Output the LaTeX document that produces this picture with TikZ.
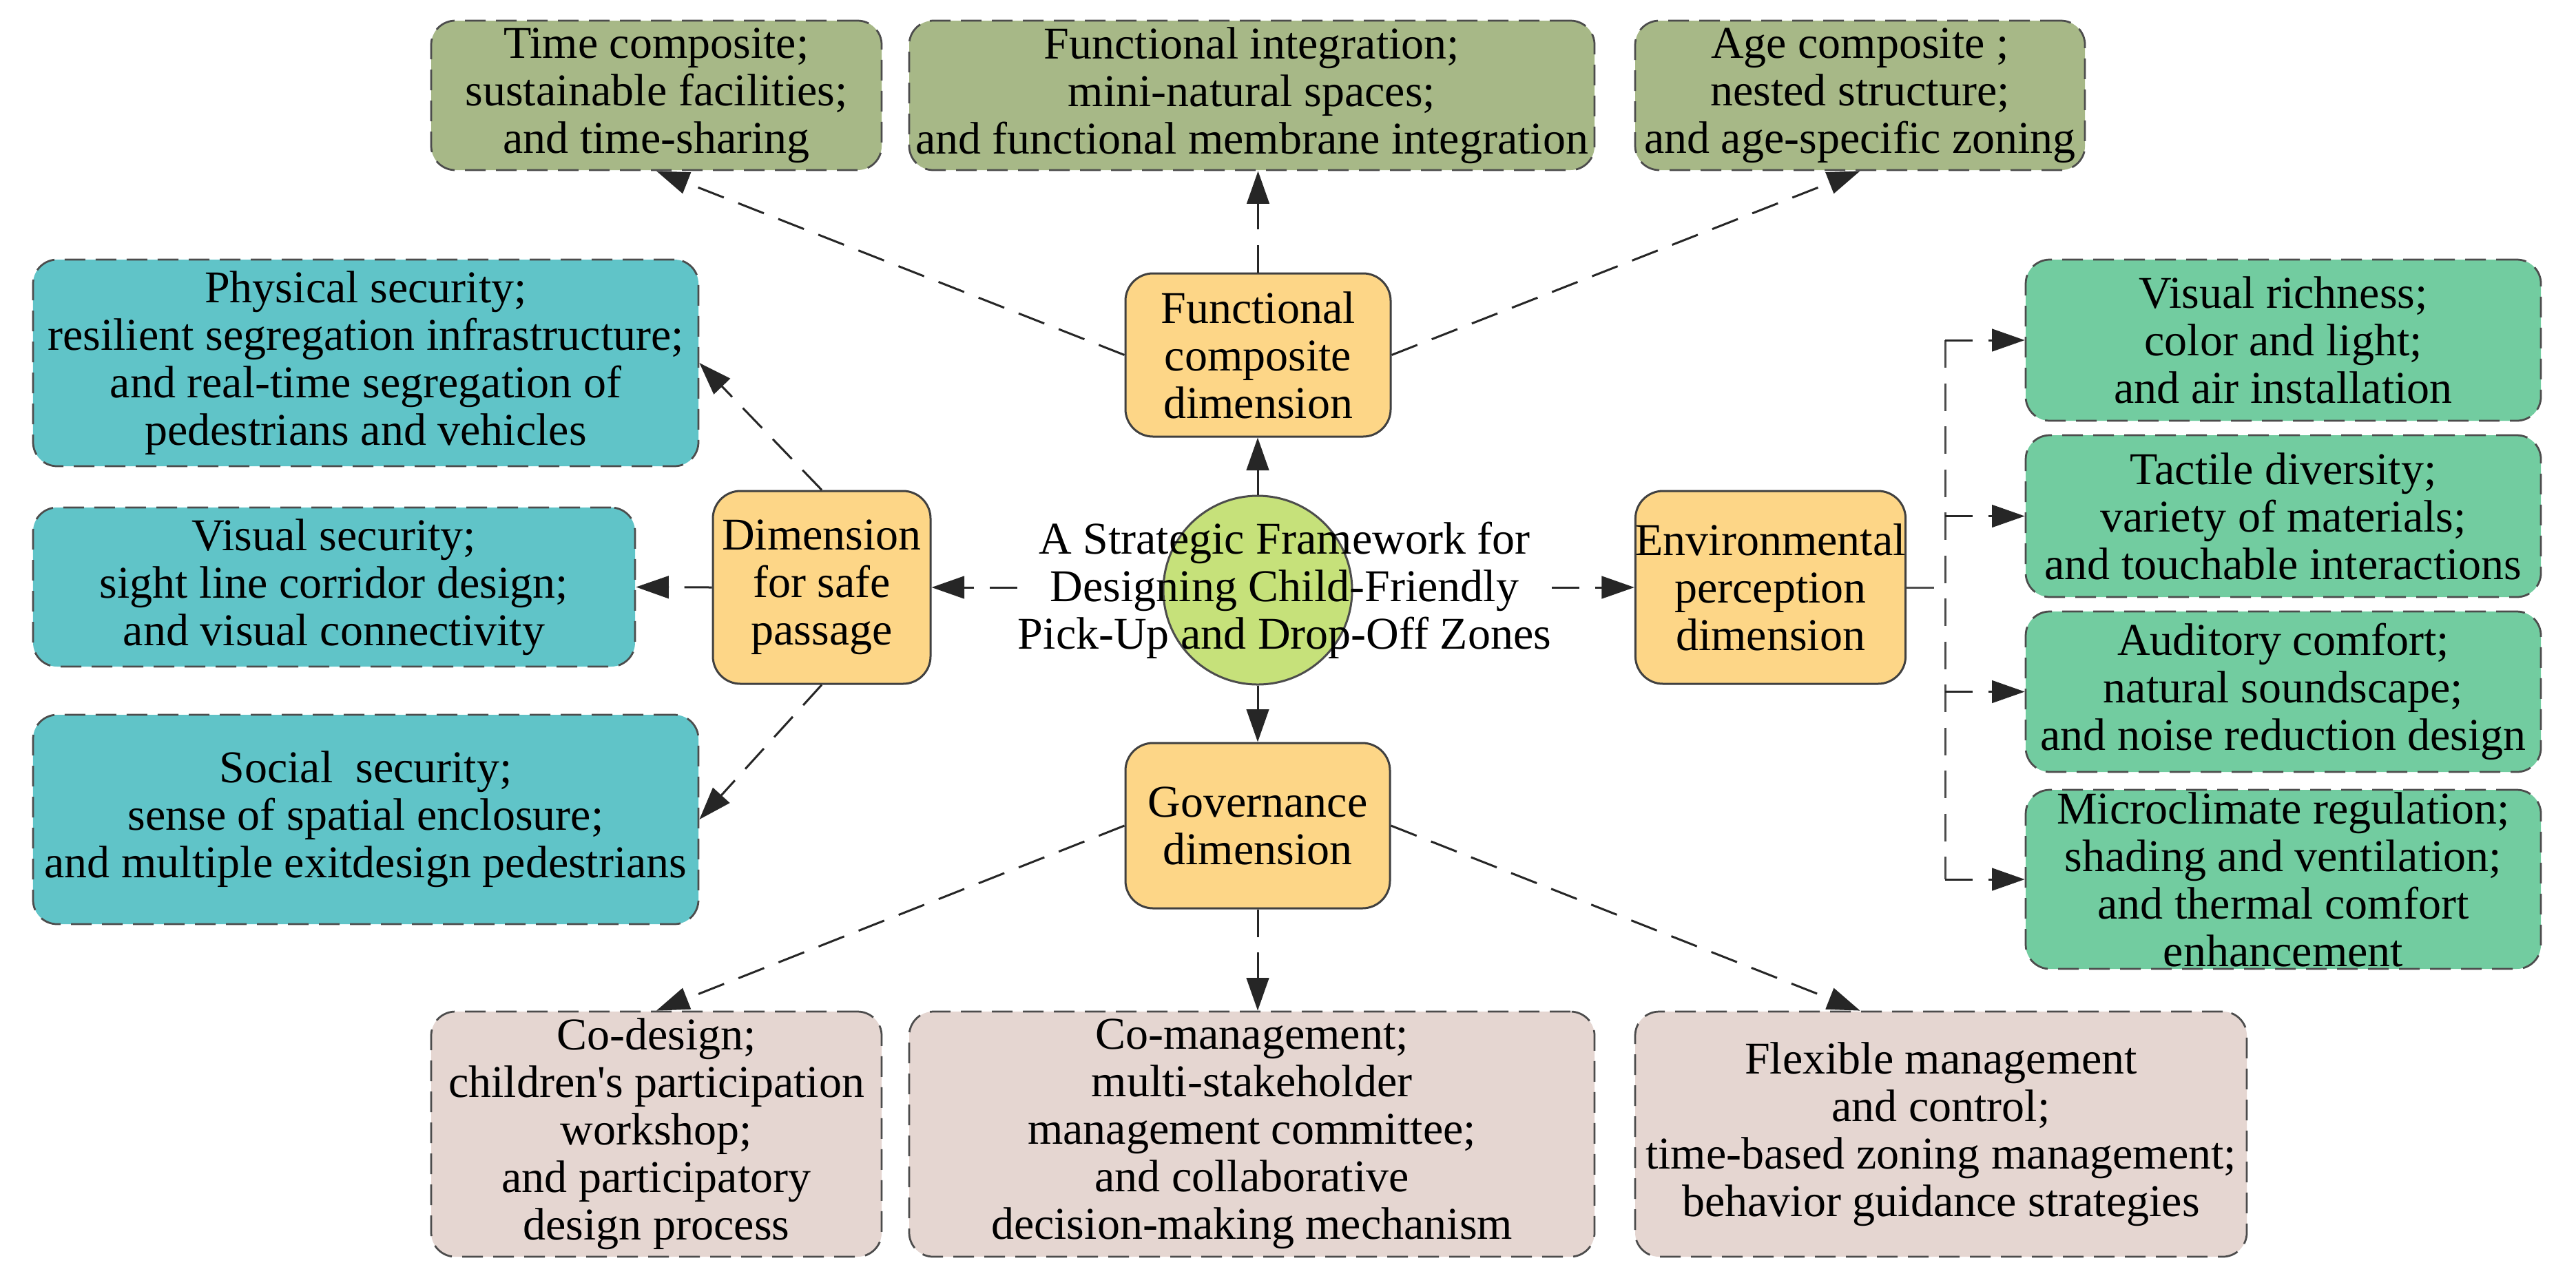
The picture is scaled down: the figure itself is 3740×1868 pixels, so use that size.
\documentclass[tikz,border=0pt]{standalone}
\usepackage{fontspec}
\setmainfont{Liberation Serif}
\newfontfamily\plainserif{Liberation Serif}
\usetikzlibrary{arrows.meta,calc}
\definecolor{cOlive}{RGB}{167,184,135}
\definecolor{cTeal}{RGB}{96,196,200}
\definecolor{cMint}{RGB}{114,204,160}
\definecolor{cPink}{RGB}{229,214,209}
\definecolor{cOrange}{RGB}{253,214,135}
\definecolor{cCore}{RGB}{198,225,122}
\begin{document}
\begin{tikzpicture}[x=0.2pt,y=-0.2pt,
  txt/.style={font=\plainserif\fontsize{13.2pt}{13.8pt}\selectfont, align=center, inner sep=0pt},
  leafbox/.style={txt, draw=black!70, line width=0.55pt, dash pattern=on 6pt off 3pt, rounded corners=7pt},
  topbox/.style={leafbox, fill=cOlive},
  safebox/.style={leafbox, fill=cTeal},
  envbox/.style={leafbox, fill=cMint},
  govbox/.style={leafbox, fill=cPink},
  dimbox/.style={txt, draw=black!75, line width=0.6pt, fill=cOrange, rounded corners=8pt},
  arr/.style={-{Triangle[length=9.5pt,width=6.5pt]}, line width=0.6pt, dash pattern=on 8pt off 4.5pt, black!85},
  arrs/.style={-{Triangle[length=9.5pt,width=6.5pt]}, line width=0.6pt, black!85},
  dline/.style={line width=0.6pt, dash pattern=on 8pt off 4.5pt, black!70}
]
\fill[white] (0,0) rectangle (3740,1868);
\useasboundingbox (0,0) rectangle (3740,1868);

% top row
\node[topbox, minimum width=130.8pt, minimum height=43.4pt] (tc) at (953,138.5) {Time composite;\\sustainable facilities;\\and time-sharing};
\node[topbox, minimum width=199pt, minimum height=43.4pt] (fi) at (1817.5,138.5) {Functional integration;\\mini-natural spaces;\\and functional membrane integration};
\node[topbox, minimum width=130.6pt, minimum height=43.4pt] (ac) at (2700.5,138.5) {Age composite ;\\nested structure;\\and age-specific zoning};

% left column
\node[safebox, minimum width=193.2pt, minimum height=60pt] (phys) at (531,527) {Physical security;\\resilient segregation infrastructure;\\and real-time segregation of\\pedestrians and vehicles};
\node[safebox, minimum width=174.8pt, minimum height=46.2pt] (vis) at (485,852.5) {Visual security;\\sight line corridor design;\\and visual connectivity};
\node[safebox, minimum width=193.2pt, minimum height=60.8pt] (soc) at (531,1190) {Social\ \ security;\\sense of spatial enclosure;\\and multiple exitdesign pedestrians};

% dimensions
\node[dimbox, minimum width=63.2pt, minimum height=56pt] (dsp) at (1193,853) {Dimension\\for safe\\passage};
\node[dimbox, minimum width=77pt, minimum height=47.4pt] (fcd) at (1826.5,515.5) {Functional\\composite\\dimension};
\node[dimbox, minimum width=76.8pt, minimum height=48pt] (gov) at (1826,1199) {Governance\\dimension};
\node[dimbox, minimum width=76.6pt, minimum height=56pt] (env) at (2570.5,853) {Environmental\\perception\\dimension};

% core
\node[circle, draw=black!70, line width=0.6pt, fill=cCore, minimum size=54.8pt, inner sep=0pt] (core) at (1826,857) {};
\node[txt] (coretext) at (1865,857) {A Strategic Framework for\\Designing Child-Friendly\\Pick-Up and Drop-Off Zones};

% right column
\node[envbox, minimum width=149.6pt, minimum height=46.8pt] (vr) at (3315,494) {Visual richness;\\color and light;\\and air installation};
\node[envbox, minimum width=149.6pt, minimum height=47pt] (td) at (3315,749.5) {Tactile diversity;\\variety of materials;\\and touchable interactions};
\node[envbox, minimum width=149.6pt, minimum height=46.6pt] (au) at (3315,1004.5) {Auditory comfort;\\natural soundscape;\\and noise reduction design};
\node[envbox, minimum width=149.6pt, minimum height=52pt] (mc) at (3315,1277) {Microclimate regulation;\\shading and ventilation;\\and thermal comfort\\enhancement};

% bottom row
\node[govbox, minimum width=130.8pt, minimum height=71.2pt] (cd) at (953,1647) {Co-design;\\children's participation\\workshop;\\and participatory\\design process};
\node[govbox, minimum width=199pt, minimum height=71.2pt] (cm) at (1817.5,1647) {Co-management;\\multi-stakeholder\\management committee;\\and collaborative\\decision-making mechanism};
\node[govbox, minimum width=177.6pt, minimum height=71.2pt] (fm) at (2818,1647) {Flexible management\\and control;\\time-based zoning management;\\behavior guidance strategies};

% connectors
\draw[arrs] (core.north) -- (core.north |- fcd.south);
\draw[arrs] (core.south) -- (core.south |- gov.north);
\draw[arr] (coretext.west |- dsp.east) -- (dsp.east);
\draw[arr] (coretext.east |- env.west) -- (env.west);

\draw[arr] (fcd.west) -- (tc.south);
\draw[arr] (fcd.north) -- (fcd.north |- fi.south);
\draw[arr] (fcd.east) -- (ac.south);

\draw[arr] (dsp.north) -- (phys.east);
\draw[arr] (dsp.west) -- (vis.east);
\draw[arr] (dsp.south) -- (soc.east);

\draw[arr] (gov.west) -- (cd.north);
\draw[arr] (gov.south) -- (gov.south |- cm.north);
\draw[arr] (gov.east) -- (ac.south |- fm.north);

\coordinate (split) at (2824,853);
\draw[dline] (env.east) -- (split);
\draw[dline] (split |- vr.west) -- (split |- mc.west);
\foreach \b in {vr,td,au,mc} \draw[arr] (split |- \b.west) -- (\b.west);
\end{tikzpicture}
\end{document}
